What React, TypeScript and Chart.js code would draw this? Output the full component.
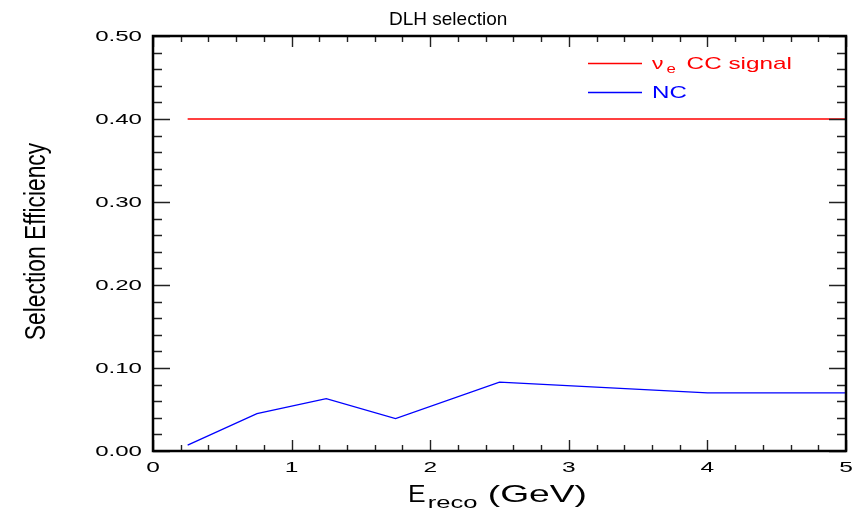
import React, { useEffect, useRef } from "react";
import { Chart, registerables } from "chart.js";

Chart.register(...registerables);

const chartTitle = "DLH selection";
const signalEnergy = [0.25, 0.75, 1.25, 1.75, 2.5, 4, 5];
const signalEff = [0.4, 0.4, 0.4, 0.4, 0.4, 0.4, 0.4];
const ncEnergy = [0.25, 0.75, 1.25, 1.75, 2.5, 4, 5];
const ncEff = [0.007, 0.045, 0.063, 0.039, 0.083, 0.07, 0.07];
const xTickValues = [0, 1, 2, 3, 4, 5];
const xTickLabels = ["0", "1", "2", "3", "4", "5"];
const yTickValues = [0, 0.1, 0.2, 0.3, 0.4, 0.5];
const yTickLabels = ["0.00", "0.10", "0.20", "0.30", "0.40", "0.50"];
const xMinorStep = 0.2;
const yMinorStep = 0.02;

const FONT = '"Liberation Sans", Arial, Helvetica, sans-serif';

function stretchText(
  ctx: CanvasRenderingContext2D,
  text: string,
  x: number,
  y: number,
  size: number,
  sx: number,
  align: CanvasTextAlign,
  color: string
) {
  ctx.save();
  ctx.font = `${size}px ${FONT}`;
  ctx.fillStyle = color;
  ctx.textAlign = align;
  ctx.textBaseline = "alphabetic";
  ctx.translate(x, y);
  ctx.scale(sx, 1);
  ctx.fillText(text, 0, 0);
  ctx.restore();
}

function textW(ctx: CanvasRenderingContext2D, text: string, size: number, sx: number) {
  ctx.save();
  ctx.font = `${size}px ${FONT}`;
  const w = ctx.measureText(text).width * sx;
  ctx.restore();
  return w;
}

const framePlugin = {
  id: "paw-frame",
  afterDatasetsDraw(chart: any) {
    const ctx: CanvasRenderingContext2D = chart.ctx;
    const { left, right, top, bottom } = chart.chartArea;
    const xs = chart.scales.x;
    const ys = chart.scales.y;
    ctx.save();

    // ticks (inward)
    ctx.strokeStyle = "#222";
    ctx.lineWidth = 1.4;
    ctx.beginPath();
    const xMin = xs.min, xMax = xs.max;
    const nx = Math.round((xMax - xMin) / xMinorStep);
    for (let i = 0; i <= nx; i++) {
      const v = xMin + i * xMinorStep;
      const major = xTickValues.some((t) => Math.abs(t - v) < 1e-6);
      const len = major ? 11 : 6;
      const px = Math.round(xs.getPixelForValue(v)) + 0.5;
      ctx.moveTo(px, bottom);
      ctx.lineTo(px, bottom - len);
      ctx.moveTo(px, top);
      ctx.lineTo(px, top + len);
    }
    const yMin = ys.min, yMax = ys.max;
    const ny = Math.round((yMax - yMin) / yMinorStep);
    for (let i = 0; i <= ny; i++) {
      const v = yMin + i * yMinorStep;
      const major = yTickValues.some((t) => Math.abs(t - v) < 1e-6);
      const len = major ? 17 : 9;
      const py = Math.round(ys.getPixelForValue(v)) + 0.5;
      ctx.moveTo(left, py);
      ctx.lineTo(left + len, py);
      ctx.moveTo(right, py);
      ctx.lineTo(right - len, py);
    }
    ctx.stroke();

    // frame
    ctx.strokeStyle = "#000";
    ctx.lineWidth = 2.5;
    ctx.strokeRect(left, top, right - left, bottom - top);

    // tick labels
    xTickValues.forEach((v, i) => {
      stretchText(ctx, xTickLabels[i], xs.getPixelForValue(v), bottom + 21, 14, 1.75, "center", "#000");
    });
    yTickValues.forEach((v, i) => {
      stretchText(ctx, yTickLabels[i], left - 11, ys.getPixelForValue(v) + 5, 14, 1.72, "right", "#000");
    });

    // title
    stretchText(ctx, chartTitle, 389, 25, 19, 1.0, "left", "#000");

    // x-axis title: E_reco (GeV)
    {
      const cx = (left + right) / 2;
      const mainSize = 24, subSize = 16;
      const wE = textW(ctx, "E", mainSize, 1.1);
      const wSub = textW(ctx, "reco", subSize, 1.6);
      const wRest = textW(ctx, " (GeV)", mainSize, 1.55);
      const total = wE + 2 + wSub + wRest;
      let x0 = cx - total / 2 - 2;
      const base = 502;
      stretchText(ctx, "E", x0, base, mainSize, 1.1, "left", "#000");
      x0 += wE + 2;
      stretchText(ctx, "reco", x0, base + 6, subSize, 1.6, "left", "#000");
      x0 += wSub;
      stretchText(ctx, " (GeV)", x0, base, mainSize, 1.55, "left", "#000");
    }

    // y-axis title
    {
      ctx.save();
      const cy = (top + bottom) / 2 - 2;
      ctx.translate(45, cy);
      ctx.rotate(-Math.PI / 2);
      ctx.scale(0.76, 1);
      ctx.font = `30px ${FONT}`;
      ctx.fillStyle = "#000";
      ctx.textAlign = "center";
      ctx.textBaseline = "alphabetic";
      ctx.fillText("Selection Efficiency", 0, 0);
      ctx.restore();
    }

    // legend
    {
      const items = chart.data.datasets;
      const lx0 = 588, lx1 = 642, tx = 652;
      const rows = [63, 92];
      items.forEach((ds: any, i: number) => {
        const y = rows[i];
        ctx.strokeStyle = ds.borderColor;
        ctx.lineWidth = 1.3;
        ctx.beginPath();
        ctx.moveTo(lx0, y + 0.5);
        ctx.lineTo(lx1, y + 0.5);
        ctx.stroke();
        if (ds.label === "nue") {
          let x = tx;
          stretchText(ctx, "\u03bd", x, y + 6, 17, 1.35, "left", ds.borderColor);
          x += textW(ctx, "\u03bd", 17, 1.35) + 3;
          stretchText(ctx, "e", x, y + 10, 12, 1.4, "left", ds.borderColor);
          x += textW(ctx, "e", 12, 1.4) + 4;
          stretchText(ctx, " CC signal", x, y + 6, 17, 1.43, "left", ds.borderColor);
        } else {
          stretchText(ctx, ds.label, tx, y + 6, 17, 1.42, "left", ds.borderColor);
        }
      });
    }

    ctx.restore();
  },
};

export default function App() {
  const ref = useRef<HTMLCanvasElement | null>(null);
  useEffect(() => {
    if (!ref.current) return;
    const chart = new Chart(ref.current, {
      type: "line",
      data: {
        datasets: [
          {
            label: "nue",
            data: signalEnergy.map((x, i) => ({ x, y: signalEff[i] })),
            borderColor: "#ff0000",
            borderWidth: 1.3,
            pointRadius: 0,
            tension: 0,
            fill: false,
          },
          {
            label: "NC",
            data: ncEnergy.map((x, i) => ({ x, y: ncEff[i] })),
            borderColor: "#0000ff",
            borderWidth: 1.3,
            pointRadius: 0,
            tension: 0,
            fill: false,
          },
        ],
      },
      options: {
        animation: false,
        responsive: false,
        maintainAspectRatio: false,
        layout: { padding: { left: 153, right: 13, top: 36, bottom: 58 } },
        plugins: { legend: { display: false }, title: { display: false }, tooltip: { enabled: false } },
        scales: {
          x: { type: "linear", min: 0, max: 5, display: false },
          y: { type: "linear", min: 0, max: 0.5, display: false },
        },
      },
      plugins: [framePlugin],
    });
    return () => chart.destroy();
  }, []);
  return (
    <div style={{ position: "fixed", left: 0, top: 0, width: 859, height: 509, background: "#fff" }}>
      <canvas ref={ref} width={859} height={509} style={{ width: 859, height: 509 }} />
    </div>
  );
}
